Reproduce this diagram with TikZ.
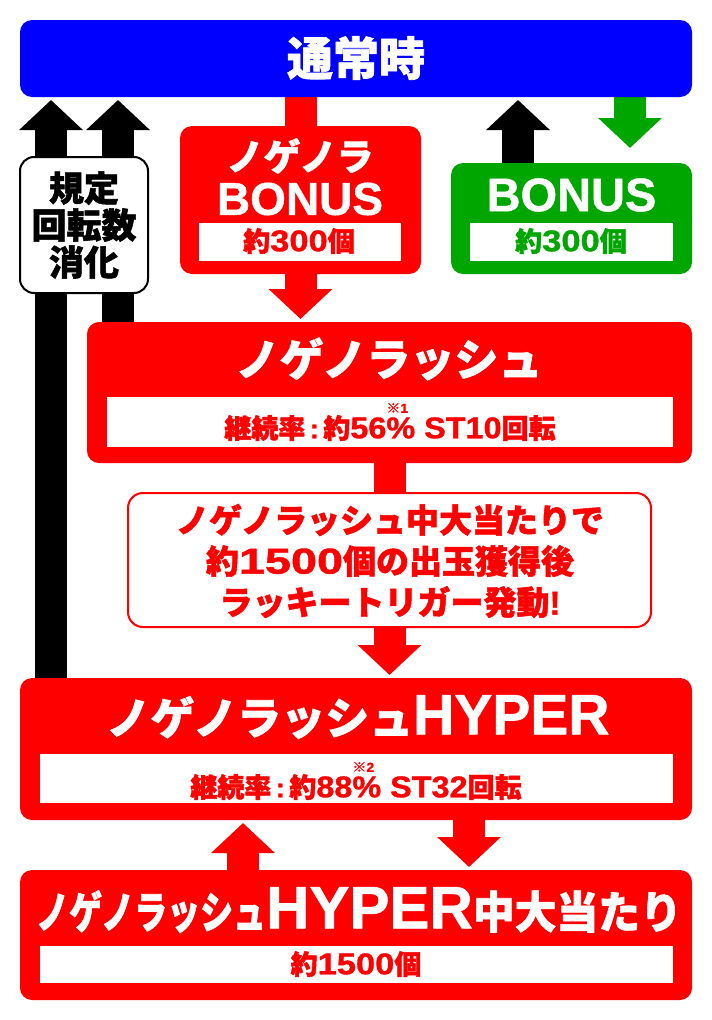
\documentclass[tikz,border=0pt]{standalone}
\usepackage{fontspec}
\newfontfamily\jp{Noto Sans CJK JP}[BoldFeatures={FakeBold=1.5}]
\newfontfamily\lat{Liberation Sans}[BoldFeatures={FakeBold=1}]
\usetikzlibrary{arrows.meta}
\definecolor{rd}{RGB}{255,0,0}
\definecolor{bl}{RGB}{0,0,255}
\definecolor{gr}{RGB}{0,166,0}
\newcommand\fs[1]{\fontsize{#1}{#1}\selectfont}
\newcommand\lt[1]{{\lat\bfseries #1}}
% digits / latin: scale, size, text
\newcommand\dg[3]{\scalebox{#1}[1]{\lt{\fs{#2}#3}}}
\newcommand\refmark[1]{\makebox[0pt][l]{\raisebox{25.5pt}{\fs{13}{\jp\bfseries ※}\lt{#1}}}}
\begin{document}
\begin{tikzpicture}[x=1pt,y=-1pt,
  panel/.style={rounded corners=12pt, inner sep=0pt, outer sep=0pt},
  strip/.style={fill=white, inner sep=0pt, outer sep=0pt},
  txt/.style={inner sep=0pt, outer sep=0pt, font=\jp\bfseries, align=center},
  shaft/.style={line width=32pt},
  blockarrow/.style={line width=32pt, -{Triangle[width=62pt,length=30pt]}, shorten >=3pt}
]
\useasboundingbox (0,0) rectangle (712,1020);
% x positions of the vertical connectors
\coordinate (xa) at (51,0);
\coordinate (xb) at (118,0);
\coordinate (xc) at (518,0);
\coordinate (xd) at (630,0);
\coordinate (xe) at (243,0);
\coordinate (xf) at (469,0);
\coordinate (gtip) at (630,148);

% boxes (shapes only, filled later over connectors)
\path
  node[panel, minimum width=672pt, minimum height=77pt] (normal) at (356,58.5) {}
  node[panel, minimum width=241pt, minimum height=148pt] (nbonus) at (300.5,200) {}
  node[panel, minimum width=241pt, minimum height=111pt] (gbonus) at (571.5,218.5) {}
  node[panel, minimum width=605pt, minimum height=141pt] (rush) at (389.5,392.5) {}
  node[panel, minimum width=523pt, minimum height=134pt] (mid) at (389.5,560) {}
  node[panel, minimum width=672pt, minimum height=142pt] (hyper) at (356,749) {}
  node[panel, minimum width=672pt, minimum height=130pt] (bottom) at (356,935) {};

% connectors
\draw[blockarrow, black] (hyper.north -| xa) -- (normal.south -| xa);
\draw[blockarrow, black] (rush.north -| xb) -- (normal.south -| xb);
\draw[blockarrow, black] (gbonus.north -| xc) -- (normal.south -| xc);
\draw[blockarrow, gr, shorten >=0pt] (normal.south -| xd) -- (gtip);
\draw[shaft, rd] (nbonus.north |- normal.south) -- (nbonus.north);
\draw[blockarrow, rd] (nbonus.south) -- (nbonus.south |- rush.north);
\draw[shaft, rd] (mid.north |- rush.south) -- (mid.north);
\draw[blockarrow, rd] (mid.south) -- (mid.south |- hyper.north);
\draw[blockarrow, rd] (hyper.south -| xf) -- (bottom.north -| xf);
\draw[blockarrow, rd] (bottom.north -| xe) -- (hyper.south -| xe);

% filled boxes
\fill[bl, rounded corners=12pt] (normal.north west) rectangle (normal.south east);
\fill[rd, rounded corners=12pt] (nbonus.north west) rectangle (nbonus.south east);
\fill[gr, rounded corners=12pt] (gbonus.north west) rectangle (gbonus.south east);
\fill[rd, rounded corners=12pt] (rush.north west) rectangle (rush.south east);
\filldraw[fill=white, draw=rd, line width=2pt, rounded corners=15pt] (mid.north west) rectangle (mid.south east);
\fill[rd, rounded corners=12pt] (hyper.north west) rectangle (hyper.south east);
\fill[rd, rounded corners=12pt] (bottom.north west) rectangle (bottom.south east);

% side label
\node[draw=black, line width=2pt, fill=white, rounded corners=14pt,
      minimum width=128pt, minimum height=136pt, inner sep=0pt, align=center,
      font=\jp\bfseries\fontsize{35}{37}\selectfont] (rule) at (84,225) {規定\\回転数\\消化};

% white strips
\node[strip, minimum width=202pt, minimum height=38pt] (nbstrip) at (300,242) {};
\node[strip, minimum width=203pt, minimum height=38pt] (gbstrip) at (571.5,242) {};
\node[strip, minimum width=566pt, minimum height=50pt] (rstrip) at (390,422) {};
\node[strip, minimum width=633pt, minimum height=49pt] (hstrip) at (356.5,778.5) {};
\node[strip, minimum width=633pt, minimum height=37pt] (bstrip) at (356.5,964.5) {};

% texts
\node[txt, white] (t1) at (356,58) {\fs{46}通常時};
\node[txt, white] (t2) at (300,156) {\fs{37}ノゲノラ};
\node[txt, white] (t3) at (300,199) {\fs{46}\lt{BONUS}};
\node[txt, rd] (t4) at (299,241) {\fs{27}約\dg{1.15}{30}{300}個};
\node[txt, white] (t5) at (571.5,195) {\fs{47}\lt{BONUS}};
\node[txt, gr] (t6) at (571,241) {\fs{27}約\dg{1.15}{30}{300}個};
\node[txt, white] (t7) at (389,359) {\fs{44}ノゲノラッシュ};
\node[txt, rd] (t8) at (390,422) {\fs{27}継続率\lt{\,:\,}約\dg{1.08}{30}{56\refmark{1}\% ST10}回転};
\node[txt, rd, font=\jp\bfseries\fontsize{33}{41}\selectfont] (t9) at (390,561)
  {ノゲノラッシュ中大当たりで\\約\dg{1.3}{36}{1500}個の出玉獲得後\\ラッキートリガー発動\lt{!}};
\node[txt, white] (t10) at (358,717) {\fs{44}ノゲノラッシュ\lt{\fs{57}HYPER}};
\node[txt, rd] (t11) at (356,781) {\fs{27}継続率\lt{\,:\,}約\dg{1.08}{30}{88\refmark{2}\% ST32}回転};
\node[txt, white] (t12) at (359,910) {\fs{44}\scalebox{0.75}[1]{ノゲノラッシュ}\lt{\fs{60}HYPER}\scalebox{0.95}[1]{中大当たり}};
\node[txt, rd] (t13) at (356,964) {\fs{27}約\dg{1.15}{30}{1500}個};
\end{tikzpicture}
\end{document}
